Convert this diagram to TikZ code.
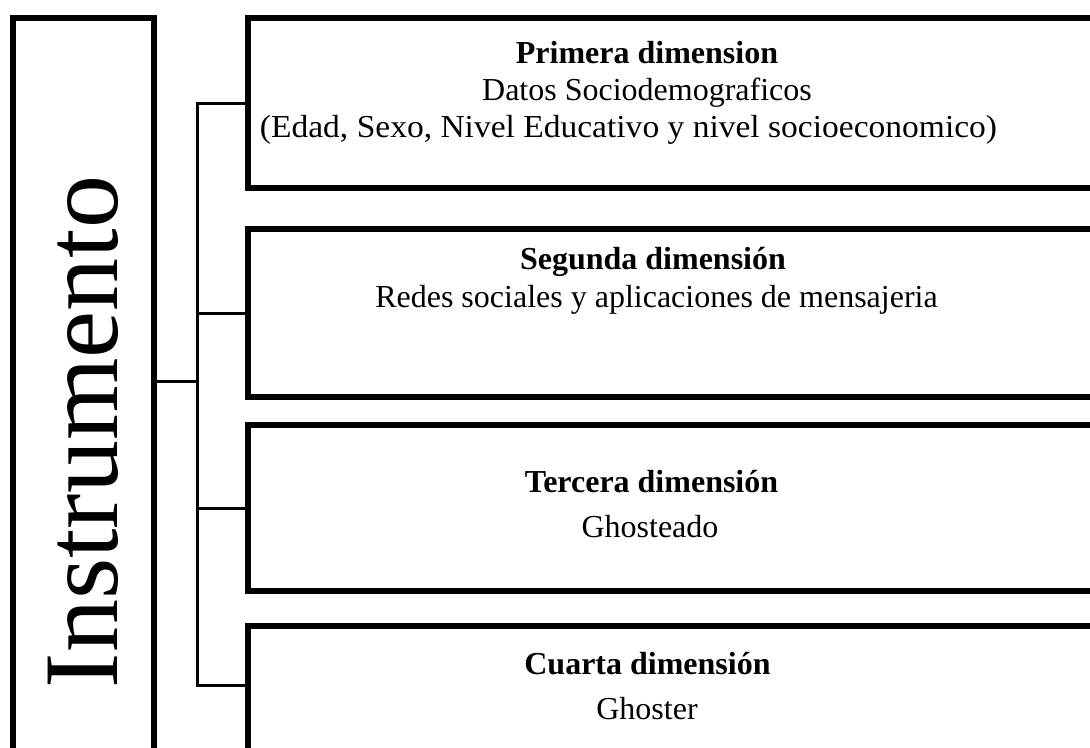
\documentclass[tikz,border=0pt]{standalone}
\usepackage{fontspec}
\usepackage{graphicx}
\setmainfont{Liberation Serif}
\usetikzlibrary{calc}
\newcommand{\hstretch}[2]{\resizebox{#1}{\height}{#2}}
\begin{document}
\begin{tikzpicture}[x=0.75pt,y=-0.75pt,
  boxstyle/.style={draw=black,line width=4.5pt,fill=none,inner sep=0pt,anchor=north west},
  conn/.style={draw=black,line width=2.25pt},
  txt/.style={anchor=base,inner sep=0pt,font=\fontsize{24}{28}\selectfont},
  bold/.style={txt,font=\fontsize{24}{28}\selectfont\bfseries},
  big/.style={anchor=base,inner sep=0pt,rotate=90,font=\fontsize{79.5}{90}\selectfont}]
\useasboundingbox (0,0) rectangle (1090,747);
\fill[white] (0,0) rectangle (1090,747);
\clip (0,0) rectangle (1090,747);
% left box
\node[boxstyle,minimum width=105.75pt,minimum height=600pt] (lbox) at (10,15) {};
\node[big] (instr) at (117,432) {Instrumento};
% right boxes
\node[boxstyle,minimum width=641.25pt,minimum height=127.5pt] (b1) at (245,15) {};
\node[boxstyle,minimum width=641.25pt,minimum height=126pt] (b2) at (245,226) {};
\node[boxstyle,minimum width=641.25pt,minimum height=124.5pt] (b3) at (245,422) {};
\node[boxstyle,minimum width=641.25pt,minimum height=126pt] (b4) at (245,623) {};
% texts
\node[bold] (t1a) at (647,63) {Primera dimension};
\node[txt] (t1b) at (647,100) {Datos Sociodemograficos};
\node[txt] (t1c) at (628.5,137) {\hstretch{552.75pt}{(Edad, Sexo, Nivel Educativo y nivel socioeconomico)}};
\node[bold] (t2a) at (653,269) {Segunda dimensión};
\node[txt] (t2b) at (656.5,307) {Redes sociales y aplicaciones de mensajeria};
\node[bold] (t3a) at (651.5,492) {Tercera dimensión};
\node[txt] (t3b) at (650,537) {Ghosteado};
\node[bold] (t4a) at (647.5,674) {Cuarta dimensión};
\node[txt] (t4b) at (647,719) {Ghoster};
% connectors
\coordinate (hub) at (197.5,381);
\coordinate (c4) at ($(b4.north west)+(0,62)$);
\draw[conn] (lbox.east |- hub) -- (hub);
\draw[conn] (b1.west) -- (hub |- b1.west) -- (hub |- c4) -- (c4);
\draw[conn] (hub |- b2.west) -- (b2.west);
\draw[conn] (hub |- b3.west) -- (b3.west);
\end{tikzpicture}
\end{document}
